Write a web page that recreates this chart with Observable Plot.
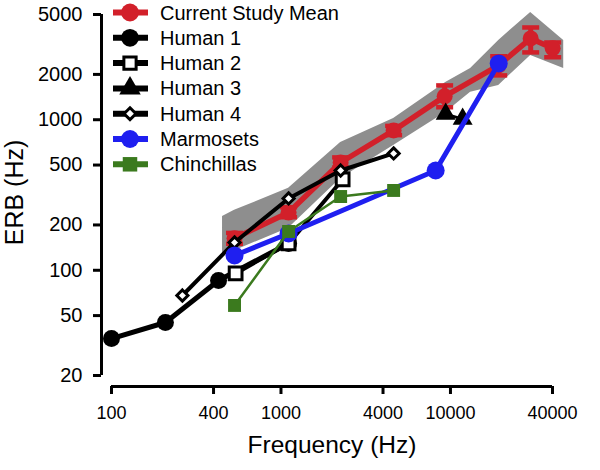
<!DOCTYPE html>
<html><head><meta charset="utf-8">
<script src="https://cdn.jsdelivr.net/npm/d3@7"></script>
<script src="https://cdn.jsdelivr.net/npm/@observablehq/plot@0.6"></script>
<style>
body{margin:0;background:#fff;}
#wrap{position:relative;width:600px;height:470px;font-family:"Liberation Sans",Arial,Helvetica,sans-serif;}
#legend{position:absolute;left:0;top:0;pointer-events:none;}
</style></head><body><div id="wrap"></div>
<script>
// ---- data ----
const xTicks = [100, 400, 1000, 4000, 10000, 40000];
const yTicks = [20, 50, 100, 200, 500, 1000, 2000, 5000];

const studyFreq = [532, 1109, 2249, 4620, 9240, 19260, 29740, 40100];
const studyErb  = [163, 242, 520, 849, 1430, 2300, 3470, 2980];
const studyLo   = [150, 225, 482, 790, 1210, 1970, 2800, 2600];
const studyHi   = [177, 262, 562, 910, 1690, 2640, 4100, 3260];

const bandFreq = [452, 532, 1109, 2249, 4620, 9370, 13150, 19260, 29740, 46580];
const bandHi   = [228, 250, 350, 706, 1020, 1770, 2190, 3365, 5165, 3365];
const bandLo   = [125, 135, 190, 407, 675, 1118, 1520, 1690, 2675, 2190];

const human1Freq = [100, 208, 428, 1109];
const human1Erb  = [35.2, 45, 85.6, 150.7];
const human2Freq = [540, 1109, 2311];
const human2Erb  = [95.3, 150.7, 401];
const human3Freq = [9370, 11800];
const human3Erb  = [1090, 1010];
const human4Freq = [262, 532, 1109, 2249, 4620];
const human4Erb  = [68, 153, 300, 460, 597];
const marmFreq = [532, 1109, 8180, 19260];
const marmErb  = [125.4, 175.6, 460, 2366];
const chinFreq = [532, 1109, 2249, 4620];
const chinErb  = [58.4, 181, 309, 339];

const legendNames = ["Current Study Mean", "Human 1", "Human 2", "Human 3", "Human 4", "Marmosets", "Chinchillas"];

// ---- styles ----
const RED = "#d2202a", BLUE = "#1f1ff0", GREEN = "#3b7a1e", GRAY = "#8e8e8e";

const zip = (f, v) => f.map((d, i) => ({f: d, v: v[i]}));
const study = studyFreq.map((d, i) => ({f: d, v: studyErb[i], lo: studyLo[i], hi: studyHi[i]}));
const band = bandFreq.map((d, i) => ({f: d, lo: bandLo[i], hi: bandHi[i]}));
const h1 = zip(human1Freq, human1Erb), h2 = zip(human2Freq, human2Erb), h3 = zip(human3Freq, human3Erb),
      h4 = zip(human4Freq, human4Erb), mm = zip(marmFreq, marmErb), ch = zip(chinFreq, chinErb);

const capSymbol = {draw(ctx, size) { const h = Math.sqrt(size / Math.PI); ctx.moveTo(-h, 0); ctx.lineTo(h, 0); }};
const fmt = d => String(d);

const plot = Plot.plot({
  width: 600, height: 470,
  marginLeft: 101, marginRight: 48, marginTop: 14, marginBottom: 84,
  style: {fontFamily: '"Liberation Sans", Arial, Helvetica, sans-serif', fontSize: "18px", color: "#000", background: "#fff"},
  x: {type: "log", domain: [100, 40000], insetLeft: 10},
  y: {type: "log", domain: [20, 5000], insetBottom: 11},
  marks: [
    Plot.areaY(band, {x: "f", y1: "lo", y2: "hi", fill: GRAY, clip: false}),
    Plot.ruleX(study, {x: "f", y1: "lo", y2: "hi", stroke: RED, strokeWidth: 5}),
    Plot.dot(study, {x: "f", y: "lo", symbol: capSymbol, r: 8.5, fill: "none", stroke: RED, strokeWidth: 4.5}),
    Plot.dot(study, {x: "f", y: "hi", symbol: capSymbol, r: 8.5, fill: "none", stroke: RED, strokeWidth: 4.5}),
    Plot.line(study, {x: "f", y: "v", stroke: RED, strokeWidth: 5.5}),
    Plot.dot(study, {x: "f", y: "v", r: 8, fill: RED}),

    Plot.line(h1, {x: "f", y: "v", stroke: "#000", strokeWidth: 5}),
    Plot.dot(h1, {x: "f", y: "v", r: 8.5, fill: "#000"}),

    Plot.line(h2, {x: "f", y: "v", stroke: "#000", strokeWidth: 4}),
    Plot.dot(h2, {x: "f", y: "v", symbol: "square", r: 7.2, fill: "#fff", stroke: "#000", strokeWidth: 3}),

    Plot.line(h3, {x: "f", y: "v", stroke: "#000", strokeWidth: 3}),
    Plot.dot(h3, {x: "f", y: "v", symbol: "triangle", r: 7.4, fill: "#000"}),

    Plot.line(h4, {x: "f", y: "v", stroke: "#000", strokeWidth: 4}),
    Plot.dot(h4, {x: "f", y: "v", symbol: "diamond2", r: 5, fill: "#fff", stroke: "#000", strokeWidth: 3}),

    Plot.line(mm, {x: "f", y: "v", stroke: BLUE, strokeWidth: 5}),
    Plot.dot(mm, {x: "f", y: "v", r: 9, fill: BLUE}),

    Plot.line(ch, {x: "f", y: "v", stroke: GREEN, strokeWidth: 2.5}),
    Plot.dot(ch, {x: "f", y: "v", symbol: "square", r: 7.3, fill: GREEN}),

    Plot.ruleY([20], {x1: 100, x2: 40000, dy: 11, stroke: "#000", strokeWidth: 3}),
    Plot.ruleX([100], {y1: 20, y2: 5000, dx: -10, stroke: "#000", strokeWidth: 3}),
    Plot.axisX({ticks: xTicks, tickFormat: fmt, tickSize: 8, tickPadding: 12, strokeWidth: 3, fontSize: 18, label: null}),
    Plot.axisY({ticks: yTicks, tickFormat: () => "", tickSize: 8, strokeWidth: 3, label: null}),
    Plot.text(yTicks, {y: d => d, text: fmt, frameAnchor: "left", textAnchor: "end", dx: -19, fontSize: 20}),
    Plot.text(["Frequency (Hz)"], {text: d => d, frameAnchor: "bottom", textAnchor: "middle", dx: 5, dy: 66, fontSize: 24.5}),
    Plot.text(["ERB (Hz)"], {text: d => d, frameAnchor: "left", textAnchor: "middle", lineAnchor: "middle", rotate: -90, dx: -87, dy: -8, fontSize: 25})
  ]
});

const wrap = document.getElementById("wrap");
wrap.appendChild(plot);

// ---- legend overlay ----
const legendSpec = [
  {color: RED, sym: d3.symbolCircle, size: 250, fill: RED, sw: 6},
  {color: "#000", sym: d3.symbolCircle, size: 250, fill: "#000", sw: 6},
  {color: "#000", sym: d3.symbolSquare, size: 150, fill: "#fff", sw: 6, outline: true},
  {color: "#000", sym: d3.symbolTriangle, size: 200, fill: "#000", sw: 6},
  {color: "#000", sym: d3.symbolDiamond2, size: 90, fill: "#fff", sw: 6, outline: true},
  {color: BLUE, sym: d3.symbolCircle, size: 250, fill: BLUE, sw: 6},
  {color: GREEN, sym: d3.symbolSquare, size: 210, fill: GREEN, sw: 6}
];
const lg = d3.select(wrap).append("svg").attr("id", "legend").attr("width", 600).attr("height", 185)
  .style("font-family", '"Liberation Sans", Arial, Helvetica, sans-serif');
legendNames.forEach((name, i) => {
  const s = legendSpec[i];
  const g = lg.append("g").attr("transform", `translate(0,${12.5 + i * 25.3})`);
  g.append("line").attr("x1", 113).attr("x2", 148).attr("y1", 0).attr("y2", 0)
    .attr("stroke", s.color).attr("stroke-width", s.sw);
  g.append("path").attr("transform", "translate(130,0)")
    .attr("d", d3.symbol().type(s.sym).size(s.size)())
    .attr("fill", s.fill).attr("stroke", s.outline ? "#000" : "none").attr("stroke-width", 3);
  g.append("text").attr("x", 160).attr("y", 0).attr("dy", "0.35em").attr("font-size", 20).text(name);
});
</script></body></html>
